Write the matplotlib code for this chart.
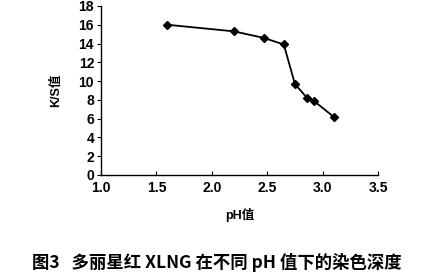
import matplotlib.pyplot as plt
import numpy as np

# data
ph = [1.6, 2.2, 2.47, 2.65, 2.75, 2.86, 2.92, 3.1]
ks = [16.0, 15.3, 14.6, 13.9, 9.7, 8.2, 7.9, 6.2]

xticks = [1.0, 1.5, 2.0, 2.5, 3.0, 3.5]
yticks = list(range(0, 19, 2))

sans = ['Liberation Sans', 'Noto Sans CJK SC', 'DejaVu Sans']
cjk = ['Noto Sans CJK SC', 'DejaVu Sans']

fig = plt.figure(figsize=(4.29, 2.79), dpi=100)
ax = fig.add_axes([0.2354, 0.3728, 0.6457, 0.6057])

ax.plot(ph, ks, '-', color='black', lw=1.3, marker='D', ms=4.5,
        mfc='black', mec='black')

ax.set_xlim(1.0, 3.5)
ax.set_ylim(0, 18)
ax.set_xticks(xticks)
ax.set_xticklabels(["%.1f" % v for v in xticks], family=sans,
                   fontsize=10, fontweight='bold')
ax.set_yticks(yticks)
ax.set_yticklabels([str(v) for v in yticks], family=sans,
                   fontsize=10, fontweight='bold')

for s in ['top', 'right']:
    ax.spines[s].set_visible(False)
for s in ['left', 'bottom']:
    ax.spines[s].set_linewidth(1.0)
ax.tick_params(axis='x', direction='in', length=3, pad=4)
ax.tick_params(axis='y', direction='out', length=3, pad=2)

ax.set_ylabel("K/S值", family=sans, fontsize=9, fontweight='bold',
              labelpad=12)
ax.set_xlabel("pH值", family=sans, fontsize=9, fontweight='bold',
              labelpad=10)

fig.text(0.505, 0.06, "图3   多丽星红 XLNG 在不同 pH 值下的染色深度",
         family=cjk, fontsize=12.5, fontweight='bold', ha='center', va='center')

fig.savefig("out.png", dpi=100)
